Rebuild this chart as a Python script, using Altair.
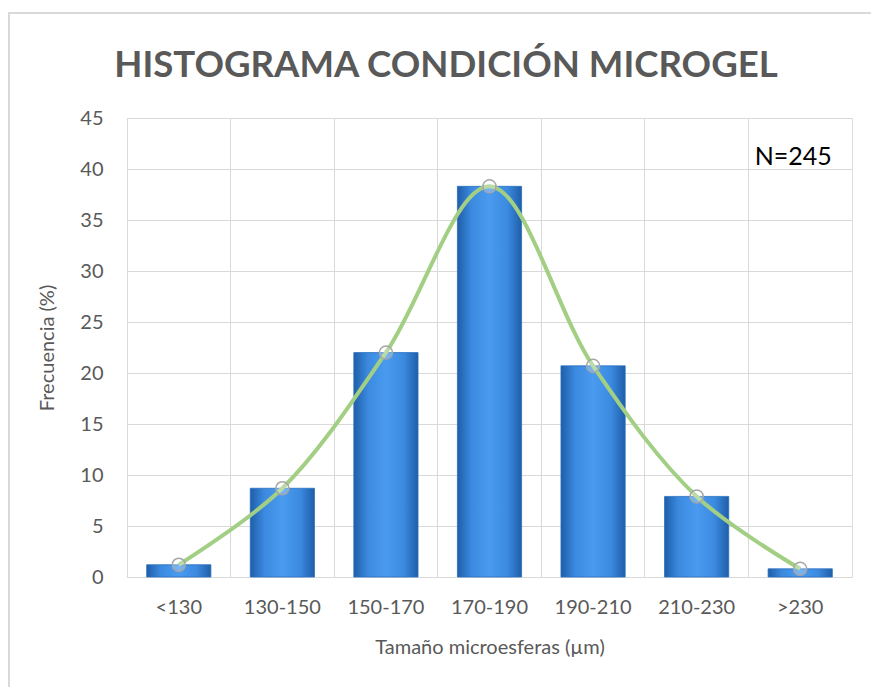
import altair as alt
import pandas as pd

categories = ["<130", "130-150", "150-170", "170-190", "190-210", "210-230", ">230"]
frequency = [1.2, 8.7, 22.0, 38.3, 20.7, 7.9, 0.8]
y_ticks = [0, 5, 10, 15, 20, 25, 30, 35, 40, 45]
title_text = "HISTOGRAMA CONDICIÓN MICROGEL"
x_title = "Tamaño microesferas (µm)"
y_title = "Frecuencia (%)"
note_text = "N=245"
note_cat = ">230"
note_y = 41.2

df = pd.DataFrame({"cat": categories, "freq": frequency})
note_df = pd.DataFrame({"cat": [note_cat], "freq": [note_y], "label": [note_text]})
title_df = pd.DataFrame({"label": [title_text]})

FONT = "Lato"
GRAY = "#595959"
GRID = "#d9d9d9"

x_enc = alt.X(
    "cat:N",
    sort=categories,
    title=x_title,
    scale=alt.Scale(paddingInner=0, paddingOuter=0),
    axis=alt.Axis(
        labelAngle=0, ticks=False, domain=True, domainColor=GRID,
        grid=True, gridColor=GRID, bandPosition=0,
        labelFont=FONT, labelFontSize=20, labelColor=GRAY, labelPadding=20,
        titleFont=FONT, titleFontSize=20, titleColor=GRAY, titleFontWeight="normal",
        titlePadding=20,
    ),
)
y_enc = alt.Y(
    "freq:Q",
    title=y_title,
    scale=alt.Scale(domain=[0, 45], nice=False),
    axis=alt.Axis(
        values=y_ticks, ticks=False, domain=False, grid=True, gridColor=GRID,
        labelFont=FONT, labelFontSize=20, labelColor=GRAY, labelPadding=24,
        titleFont=FONT, titleFontSize=20, titleColor=GRAY, titleFontWeight="normal",
        titlePadding=22,
    ),
)

frame = alt.Chart(df).mark_rect(fill=None, stroke=GRID, strokeWidth=2).encode(
    x=alt.value(-118), x2=alt.value(800), y=alt.value(-105), y2=alt.value(620)
)

title = alt.Chart(title_df).mark_text(
    font=FONT, fontSize=36.6, fontWeight="bold", color=GRAY,
    align="center", baseline="alphabetic",
).encode(x=alt.value(319), y=alt.value(-41), text="label:N")

bars = alt.Chart(df).mark_bar(
    width=alt.RelativeBandSize(0.62),
    color=alt.Gradient(
        gradient="linear", x1=0, x2=1, y1=0, y2=0,
        stops=[
            alt.GradientStop(color="#1f5ea8", offset=0),
            alt.GradientStop(color="#3b8ae0", offset=0.22),
            alt.GradientStop(color="#4a9bef", offset=0.5),
            alt.GradientStop(color="#3b8ae0", offset=0.78),
            alt.GradientStop(color="#1f5ea8", offset=1),
        ],
    ),
    stroke="#2a6fbf", strokeWidth=0.8,
).encode(x=x_enc, y=y_enc)

line = alt.Chart(df).mark_line(
    interpolate="catmull-rom", color="#a3cf84", strokeWidth=4
).encode(x=alt.X("cat:N", sort=categories), y="freq:Q")

pts = alt.Chart(df).mark_point(
    shape="circle", size=170, filled=False, stroke="#a6a6a6", strokeWidth=1.5,
    fill="white", fillOpacity=0.25,
).encode(x=alt.X("cat:N", sort=categories), y="freq:Q")

note = alt.Chart(note_df).mark_text(
    font=FONT, fontSize=25, color="black", align="center", baseline="middle", dx=-7
).encode(x=alt.X("cat:N", sort=categories), y="freq:Q", text="label:N")

chart = alt.layer(frame, title, bars, line, pts, note).properties(
    width=725,
    height=459,
    autosize=alt.AutoSizeParams(type="none"),
    padding={"left": 127, "top": 118, "right": 19, "bottom": 110},
).configure_view(stroke=GRID, strokeWidth=1.5).configure(background="white")

chart.save("out.html", embed_options={"renderer": "svg", "actions": False})
